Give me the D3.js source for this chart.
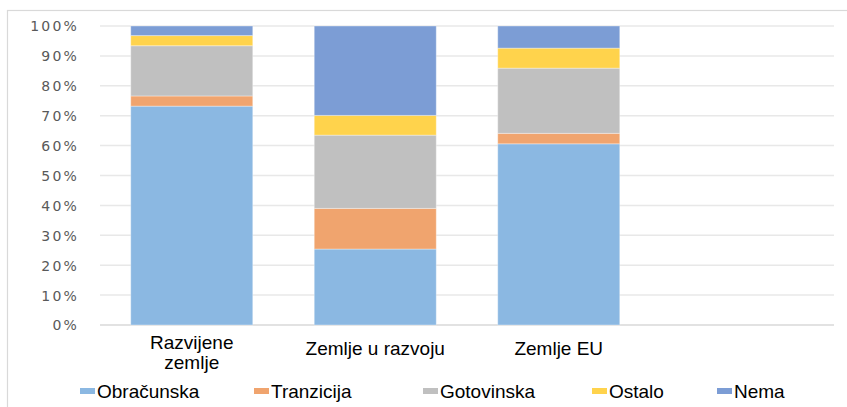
<!DOCTYPE html>
<html>
<head>
<meta charset="utf-8">
<script src="https://cdn.jsdelivr.net/npm/d3@7"></script>
<style>
  body { margin: 0; background: #fff; }
  .tick-label { font-family: "DejaVu Sans", sans-serif; font-size: 14px; fill: #595959; letter-spacing: 2.2px; }
  .cat-label { font-family: "Liberation Sans", Arial, sans-serif; font-size: 19px; fill: #000; }
  .legend-label { font-family: "Liberation Sans", Arial, sans-serif; font-size: 19px; fill: #000; }
</style>
</head>
<body>
<svg id="chart"></svg>
<script>
// categories (4th slot is empty in the original)
const categories = ['Razvijene zemlje', 'Zemlje u razvoju', 'Zemlje EU', ''];
const seriesNames = ['Obračunska', 'Tranzicija', 'Gotovinska', 'Ostalo', 'Nema'];
const obracunska = [73.2, 25.4, 60.6, 0];
const tranzicija = [3.4, 13.6, 3.5, 0];
const gotovinska = [16.8, 24.5, 21.8, 0];
const ostalo = [3.4, 6.6, 6.7, 0];
const nema = [3.2, 29.9, 7.4, 0];
const tickValues = [0, 10, 20, 30, 40, 50, 60, 70, 80, 90, 100];
const colors = ['#8bb8e2', '#f0a46e', '#c0c0c0', '#ffd34c', '#7c9dd5'];

const width = 847, height = 407;
const margin = {top: 26, right: 13, bottom: 82, left: 100};

const svg = d3.select('#chart')
    .attr('width', width)
    .attr('height', height);

// outer chart frame
svg.append('rect')
    .attr('x', 7.5).attr('y', 10.5)
    .attr('width', width).attr('height', height)
    .attr('fill', 'none')
    .attr('stroke', '#d9d9d9')
    .attr('stroke-width', 1.2);

const rows = categories.map((c, i) => ({
  cat: c,
  'Obračunska': obracunska[i],
  'Tranzicija': tranzicija[i],
  'Gotovinska': gotovinska[i],
  'Ostalo': ostalo[i],
  'Nema': nema[i]
}));

const x = d3.scaleBand()
    .domain(d3.range(categories.length))
    .range([margin.left, width - margin.right])
    .paddingInner(0.335)
    .paddingOuter(0.1675);

const y = d3.scaleLinear()
    .domain([0, 100])
    .range([height - margin.bottom, margin.top]);

// gridlines
svg.append('g')
  .selectAll('line')
  .data(tickValues)
  .join('line')
    .attr('x1', margin.left)
    .attr('x2', width - margin.right)
    .attr('y1', d => y(d))
    .attr('y2', d => y(d))
    .attr('stroke', d => d === 0 ? '#d9d9d9' : '#e8e8e8')
    .attr('stroke-width', 1.5);

// y axis labels
const yAxis = d3.axisLeft(y)
    .tickValues(tickValues)
    .tickFormat(d => d + '%')
    .tickSize(0)
    .tickPadding(0);

const yAxisG = svg.append('g')
    .attr('transform', `translate(${79},0)`)
    .call(yAxis);
yAxisG.select('.domain').remove();
yAxisG.selectAll('text')
    .attr('class', 'tick-label')
    .attr('dy', '0.35em');

// stacked bars
const stack = d3.stack().keys(seriesNames);
const layers = stack(rows);

svg.append('g')
  .selectAll('g')
  .data(layers)
  .join('g')
    .attr('fill', (d, i) => colors[i])
  .selectAll('rect')
  .data(d => d.map((v, i) => ({v, i})))
  .join('rect')
    .attr('x', d => x(d.i))
    .attr('y', d => y(d.v[1]))
    .attr('width', x.bandwidth())
    .attr('height', d => y(d.v[0]) - y(d.v[1]))
    .attr('stroke', 'rgba(255,255,255,0.35)')
    .attr('stroke-width', 1);

// category labels
const catG = svg.append('g');
categories.forEach((c, i) => {
  if (!c) return;
  const cx = x(i) + x.bandwidth() / 2;
  const lines = c === 'Razvijene zemlje' ? ['Razvijene', 'zemlje'] : [c];
  const t = catG.append('text')
      .attr('class', 'cat-label')
      .attr('text-anchor', 'middle')
      .attr('x', cx)
      .attr('y', lines.length > 1 ? 349 : 355);
  lines.forEach((l, k) => {
    t.append('tspan')
      .attr('x', cx)
      .attr('dy', k === 0 ? 0 : 20)
      .text(l);
  });
});

// legend
const legendX = [80, 254, 423, 592, 717];
const legend = svg.append('g');
seriesNames.forEach((s, i) => {
  legend.append('rect')
      .attr('x', legendX[i])
      .attr('y', 388)
      .attr('width', 15)
      .attr('height', 6)
      .attr('fill', colors[i]);
  legend.append('text')
      .attr('class', 'legend-label')
      .attr('x', legendX[i] + 17)
      .attr('y', 398)
      .text(s);
});
</script>
</body>
</html>
